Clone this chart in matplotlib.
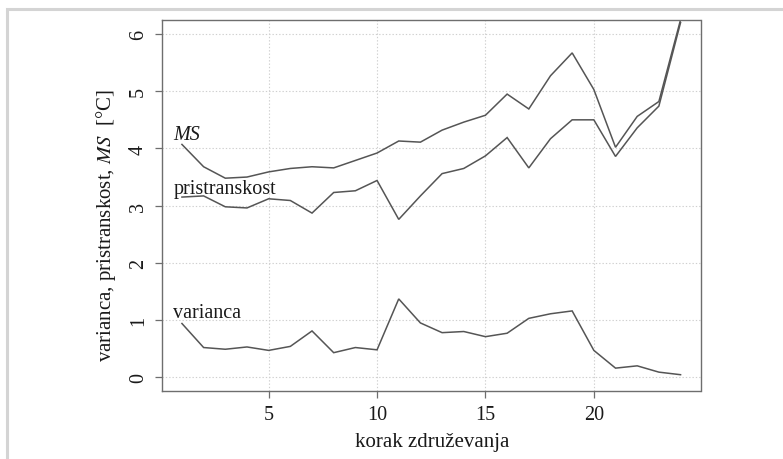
import matplotlib
matplotlib.use("Agg")
import matplotlib.pyplot as plt
from matplotlib.patches import Rectangle

plt.rcParams['font.family'] = ['Liberation Serif', 'DejaVu Serif']
plt.rcParams['mathtext.fontset'] = 'stix'

# aggregation steps and the three error components per step
korak = list(range(1, 25))
varianca = [0.94, 0.52, 0.49, 0.53, 0.47, 0.54, 0.81, 0.43, 0.52, 0.48,
            1.37, 0.95, 0.78, 0.80, 0.71, 0.77, 1.03, 1.11, 1.16, 0.47,
            0.16, 0.20, 0.09, 0.045]
pristranskost = [3.15, 3.17, 2.98, 2.96, 3.12, 3.09, 2.87, 3.23, 3.26, 3.44,
                 2.76, 3.17, 3.56, 3.65, 3.87, 4.19, 3.66, 4.17, 4.50, 4.50,
                 3.86, 4.36, 4.74, 6.20]
ms = [4.07, 3.68, 3.48, 3.50, 3.59, 3.65, 3.68, 3.66, 3.79, 3.92,
      4.13, 4.11, 4.32, 4.46, 4.58, 4.95, 4.69, 5.27, 5.67, 5.03,
      4.02, 4.56, 4.82, 6.25]

xticks = [5, 10, 15, 20]
yticks = [0, 1, 2, 3, 4, 5, 6]

fig = plt.figure(figsize=(7.83, 4.6), dpi=100)

# light frame around the whole figure
fig.patches.append(Rectangle((6.5 / 783, -0.1), 1.2, 1.1 - 9.5 / 460 + 0.0,
                             transform=fig.transFigure, fill=False,
                             edgecolor='#d4d4d4', linewidth=2.2))

ax = fig.add_axes([162 / 783, 1 - 392.3 / 460, 538.5 / 783, 371.3 / 460])

line_kw = dict(color='#555555', linewidth=1.1, solid_joinstyle='miter')
ax.plot(korak, ms, **line_kw)
ax.plot(korak, pristranskost, **line_kw)
ax.plot(korak, varianca, **line_kw)

ax.set_xlim(0.08, 24.92)
ax.set_ylim(-0.245, 6.245)
ax.set_xticks(xticks)
ax.set_yticks(yticks)
ax.grid(True, color='#cfcfcf', linestyle=(0, (1.2, 1.8)), linewidth=0.8)
ax.set_axisbelow(True)

for s in ax.spines.values():
    s.set_color('#6e6e6e')
    s.set_linewidth(1.0)
ax.tick_params(direction='out', length=5, width=0.9, color='#6e6e6e',
               labelsize=14.5, labelcolor='#1a1a1a', pad=5)
for lab in ax.get_yticklabels():
    lab.set_rotation(90)
    lab.set_va('center')

txt_kw = dict(fontsize=14.5, color='#1a1a1a', ha='left', va='baseline')
ax.text(0.6, 4.17, 'MS', style='italic', **txt_kw)
ax.text(0.6, 3.22, 'pristranskost', **txt_kw)
ax.text(0.6, 1.06, 'varianca', **txt_kw)

fig.text(432 / 783, 1 - 443 / 460, 'korak združevanja', fontsize=15,
         color='#1a1a1a', ha='center', va='center')
fig.text(106 / 783, 1 - 225 / 460,
         'varianca, pristranskost, $\\mathit{MS}$  [°C]', fontsize=15,
         color='#1a1a1a', ha='center', va='center', rotation=90)

fig.savefig('out.png', dpi=100)
